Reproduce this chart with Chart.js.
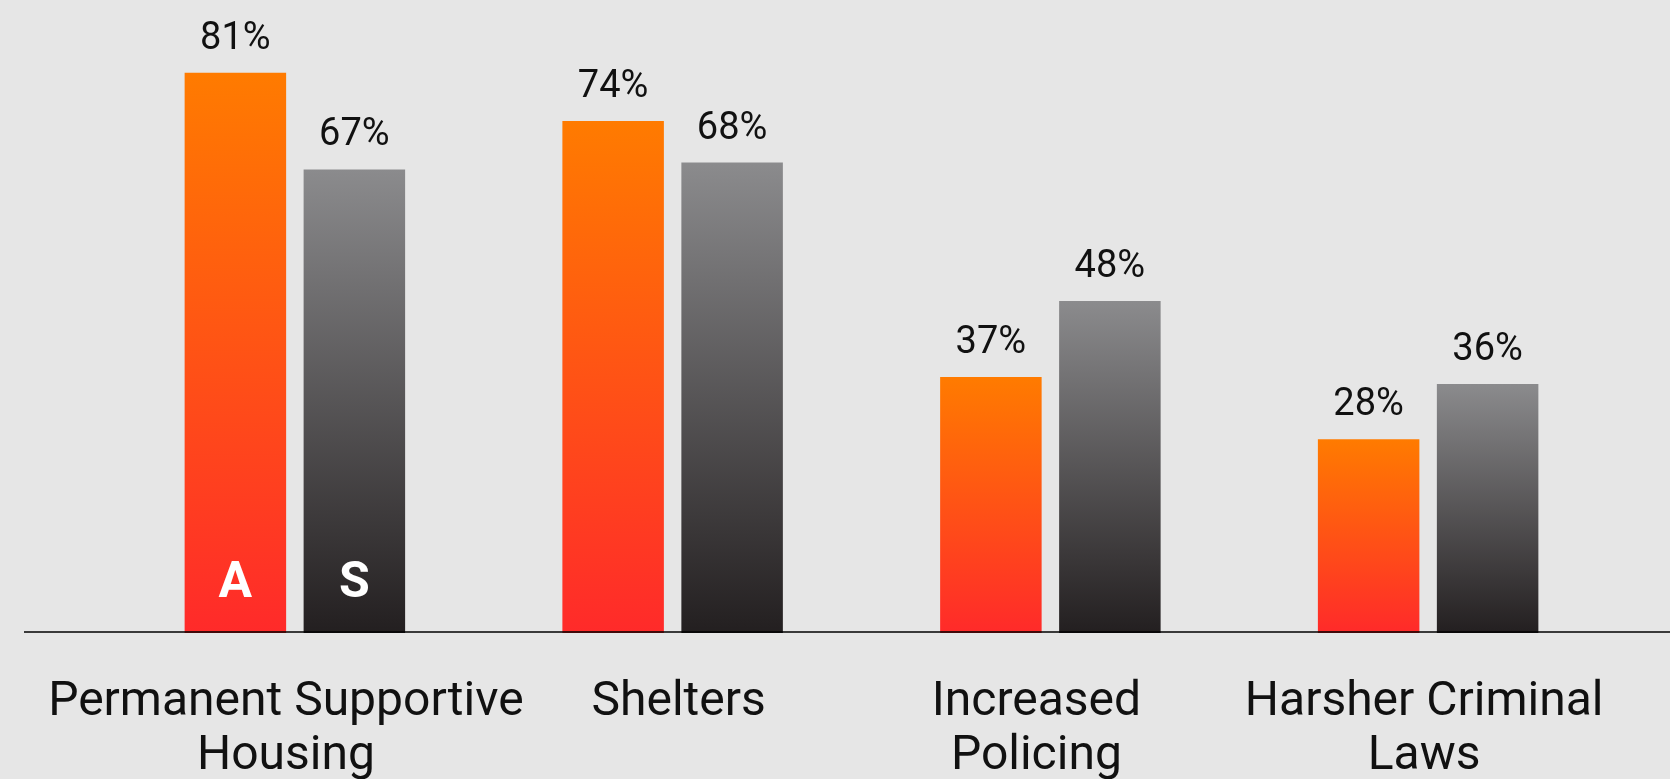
<!DOCTYPE html>
<html>
<head>
<meta charset="utf-8">
<script src="https://cdn.jsdelivr.net/npm/chart.js@4"></script>
<style>
  html, body { margin: 0; padding: 0; background: #e6e6e6; }
  #wrap { width: 1670px; height: 779px; position: relative; }
</style>
</head>
<body>
<div id="wrap"><canvas id="policyChart"></canvas></div>
<script>
// Datos del gráfico
const categories = [
  ['Permanent Supportive', 'Housing'],
  ['Shelters'],
  ['Increased', 'Policing'],
  ['Harsher Criminal', 'Laws']
];
const seriesNames = ['A', 'S'];
const seriesA = [81, 74, 37, 28];
const seriesS = [67, 68, 48, 36];

// Degradado vertical por barra (de la parte superior de la barra hasta la base)
function barGradient(topColor, bottomColor) {
  return (context) => {
    const chart = context.chart;
    const y = chart.scales.y;
    if (!chart.chartArea || !y || context.type !== 'data') return bottomColor;
    const y0 = y.getPixelForValue(0);
    const y1 = y.getPixelForValue(context.raw);
    const g = chart.ctx.createLinearGradient(0, y1, 0, y0);
    g.addColorStop(0, topColor);
    g.addColorStop(1, bottomColor);
    return g;
  };
}

// Etiquetas de valores, letras de serie, línea base y categorías
const decorPlugin = {
  id: 'decor',
  afterDatasetsDraw(chart, args, opts) {
    const ctx = chart.ctx;
    const x = chart.scales.x;
    const y = chart.scales.y;
    const zero = y.getPixelForValue(0);
    ctx.save();

    // línea base
    ctx.strokeStyle = '#000';
    ctx.lineWidth = 1.5;
    ctx.beginPath();
    ctx.moveTo(24, zero - 1);
    ctx.lineTo(chart.width, zero - 1);
    ctx.stroke();

    // porcentajes sobre las barras
    ctx.fillStyle = '#111';
    ctx.font = '38px Roboto';
    ctx.textAlign = 'center';
    ctx.textBaseline = 'alphabetic';
    chart.data.datasets.forEach((ds, di) => {
      chart.getDatasetMeta(di).data.forEach((bar, i) => {
        ctx.fillText(ds.data[i] + '%', bar.x, bar.y - 24);
      });
    });

    // letra de cada serie dentro de la primera barra
    ctx.fillStyle = '#fff';
    ctx.font = 'bold 50px Roboto';
    chart.data.datasets.forEach((ds, di) => {
      const bar = chart.getDatasetMeta(di).data[0];
      ctx.fillText(ds.label, bar.x, zero - 36);
    });

    // categorías
    ctx.fillStyle = '#111';
    ctx.font = '48px Roboto';
    chart.data.labels.forEach((lines, i) => {
      const cx = x.getPixelForValue(i) + opts.shift[i];
      lines.forEach((line, li) => {
        ctx.fillText(line, cx, zero + 82 + li * 53.5);
      });
    });
    ctx.restore();
  }
};

const ctx = document.getElementById('policyChart').getContext('2d');
const policyChart = new Chart(ctx, {
  type: 'bar',
  data: {
    labels: categories,
    datasets: [{
      label: seriesNames[0],
      data: seriesA,
      backgroundColor: barGradient('#ff7b00', '#ff2a2a'),
      borderWidth: 0
    }, {
      label: seriesNames[1],
      data: seriesS,
      backgroundColor: barGradient('#8b8b8d', '#231f20'),
      borderWidth: 0
    }]
  },
  options: {
    responsive: true,
    maintainAspectRatio: false,
    animation: false,
    categoryPercentage: 0.63,
    barPercentage: 0.853,
    layout: { padding: { left: 106, right: 53, top: 0, bottom: 146 } },
    scales: {
      x: { display: false },
      y: { display: false, min: 0, max: 91.5 }
    },
    plugins: {
      legend: { display: false },
      tooltip: { enabled: false },
      decor: { shift: [-9, 6, -14, -4] }
    }
  },
  plugins: [decorPlugin]
});
</script>
</body>
</html>
